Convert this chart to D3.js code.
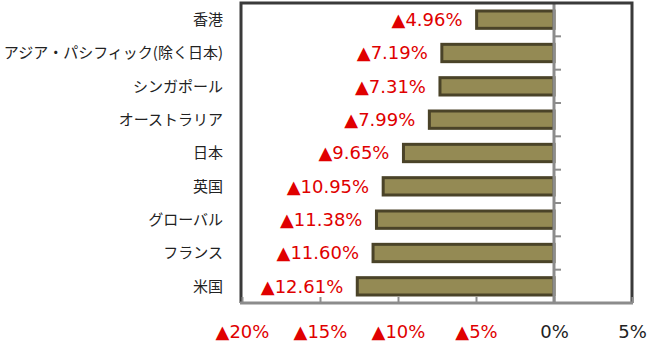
<!DOCTYPE html>
<html><head><meta charset="utf-8">
<script src="https://cdn.jsdelivr.net/npm/d3@7"></script>
<style>body{margin:0;background:#fff;} svg{display:block;}</style>
</head><body>
<svg id="c" width="650" height="344"></svg>
<script>
const categories = ["香港","アジア・パシフィック(除く日本)","シンガポール","オーストラリア","日本","英国","グローバル","フランス","米国"];
const values = [-4.96,-7.19,-7.31,-7.99,-9.65,-10.95,-11.38,-11.60,-12.61];
const tickValues = [-20,-15,-10,-5,0,5];
const tickLabels = ["▲20%","▲15%","▲10%","▲5%","0%","5%"];

const svg = d3.select("#c");
const L = 242, R = 632, T = 3, B = 303;
const x = d3.scaleLinear().domain([-20,5]).range([L,R]);
const y = d3.scaleBand().domain(categories).range([T,B]).paddingInner(0.48).paddingOuter(0.24);
const yb = d3.scaleBand().domain(categories).range([T,B]);

const fmt = v => (v<0?"▲":"") + Math.abs(v).toFixed(2) + "%";

// bars
svg.append("g").selectAll("rect").data(categories).join("rect")
  .attr("x", (d,i)=>x(values[i]))
  .attr("y", d=>y(d))
  .attr("width", (d,i)=>x(0)-x(values[i]))
  .attr("height", y.bandwidth())
  .attr("fill","#948a54").attr("stroke","#4a4328").attr("stroke-width",3);

// value labels
svg.append("g").selectAll("text").data(categories).join("text")
  .attr("x",(d,i)=>x(values[i])-14)
  .attr("y",d=>yb(d)+yb.bandwidth()/2)
  .attr("dy","0.36em")
  .attr("text-anchor","end")
  .attr("fill","#e00000")
  .attr("font-family","DejaVu Sans, Verdana, sans-serif")
  .attr("font-size",18)
  .text((d,i)=>fmt(values[i]));

// zero axis with category-boundary ticks
const zx = x(0);
svg.append("line").attr("x1",zx).attr("x2",zx).attr("y1",T).attr("y2",B)
  .attr("stroke","#8c8c8c").attr("stroke-width",3);
svg.append("g").selectAll("line").data(categories.slice(1)).join("line")
  .attr("x1",zx).attr("x2",zx+7)
  .attr("y1",d=>yb(d)).attr("y2",d=>yb(d))
  .attr("stroke","#8c8c8c").attr("stroke-width",2);

// frame
svg.append("path").attr("d",`M${L-1},${B} V${T} H${R} V${B}`)
  .attr("fill","none").attr("stroke","#3a3a3a").attr("stroke-width",3);

// bottom axis
const xAxis = d3.axisBottom(x).tickValues(tickValues).tickSize(0).tickFormat((d,i)=>tickLabels[i]);
const ax = svg.append("g").attr("transform",`translate(0,${B})`).call(xAxis);
ax.select(".domain").attr("d",`M${L-2},0H${R+1}`).attr("stroke","#8c8c8c").attr("stroke-width",3);
ax.selectAll(".tick line").attr("y2",-6).attr("stroke","#8c8c8c").attr("stroke-width",2);
ax.selectAll(".tick text").attr("y",22)
  .attr("font-family","DejaVu Sans, Verdana, sans-serif").attr("font-size",18)
  .attr("fill",d=>d<0?"#e00000":"#222");

// category labels
svg.append("g").selectAll("text").data(categories).join("text")
  .attr("x",223)
  .attr("y",d=>yb(d)+yb.bandwidth()/2)
  .attr("dy","0.36em")
  .attr("text-anchor","end")
  .attr("fill","#222")
  .attr("font-family","Noto Sans CJK JP, sans-serif")
  .attr("font-size",15)
  .text(d=>d);
</script>
</body></html>
